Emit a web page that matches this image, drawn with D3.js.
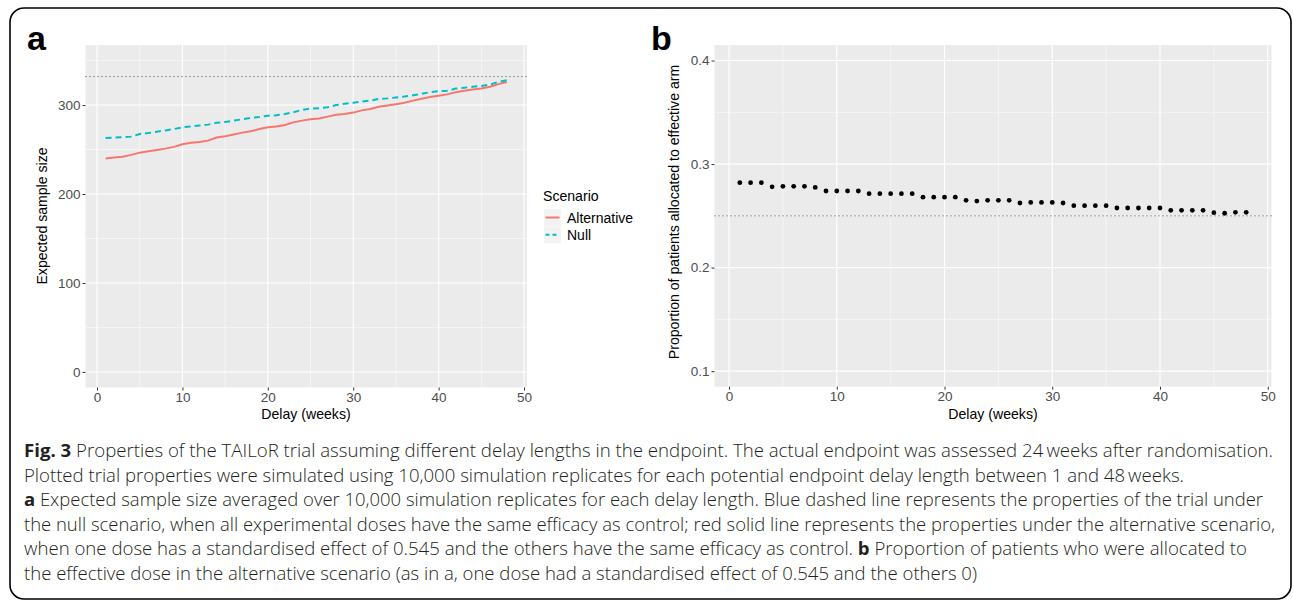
<!DOCTYPE html>
<html>
<head>
<meta charset="utf-8">
<script src="https://d3js.org/d3.v7.min.js"></script>
<style>
  body { margin: 0; background: #fff; }
  svg { display: block; }
  .tick text { font-family: "Liberation Sans", Arial, sans-serif; font-size: 13.5px; fill: #4d4d4d; }
  .tick line { stroke: #333; }
  .domain { display: none; }
  .ttl { font-family: "Liberation Sans", Arial, sans-serif; font-size: 14.1px; fill: #000; }
  .cap { font-family: "Open Sans", "Noto Sans", sans-serif; font-size: 17.5px; font-weight: 300; fill: #231f20; }
</style>
</head>
<body>
<script>
const weeks = d3.range(1, 49);
const altSize = [240, 241, 242, 244, 246.5, 248, 249.5, 251, 253, 256, 257.5, 258.5,
  260, 263.5, 265, 267, 269, 270.5, 273, 275, 276, 277.5, 280.5, 282.5,
  284, 285, 287, 289, 290, 291.5, 294, 295.5, 298, 299.5, 301, 302.5,
  305, 307, 309, 310.5, 312, 314.5, 316, 317.5, 318.5, 320.5, 323.5, 326];
const nullSize = [263, 263.5, 264, 264.5, 267.5, 268.5, 270, 271.5, 273, 275, 276, 277,
  278, 280, 281, 282.5, 284, 285.5, 286.5, 288, 288.5, 290, 292, 294.5,
  296, 296.5, 297.5, 300, 301.5, 302.5, 304, 305, 307, 307.5, 308.5, 309.5,
  311, 312.5, 314.5, 315.5, 316, 318.5, 319.5, 320.5, 321.5, 323, 326, 328];
const propEffective = [0.282, 0.282, 0.282, 0.278, 0.2785, 0.2785, 0.2785, 0.2775, 0.274, 0.274, 0.274, 0.274,
  0.2714, 0.2714, 0.2714, 0.2714, 0.2714, 0.268, 0.268, 0.268, 0.268, 0.265, 0.2643, 0.265,
  0.265, 0.265, 0.2624, 0.263, 0.263, 0.263, 0.2624, 0.2598, 0.2598, 0.2598, 0.2598, 0.2576,
  0.2576, 0.2576, 0.2576, 0.2576, 0.2553, 0.2553, 0.2553, 0.2553, 0.2531, 0.2525, 0.2534, 0.2534];
const maxSize = 332;
const equalAlloc = 0.25;
const xTicks = [0, 10, 20, 30, 40, 50];
const sizeTicks = [0, 100, 200, 300];
const propTicks = [0.1, 0.2, 0.3, 0.4];
const scenarios = ["Alternative", "Null"];
const scenarioColors = ["#F8766D", "#00BFC4"];
const captionLines = [
  [["Fig. 3", true], [" Properties of the TAILoR trial assuming different delay lengths in the endpoint. The actual endpoint was assessed 24\u2009weeks after randomisation.", false]],
  [["Plotted trial properties were simulated using 10,000 simulation replicates for each potential endpoint delay length between 1 and 48\u2009weeks.", false]],
  [["a", true], [" Expected sample size averaged over 10,000 simulation replicates for each delay length. Blue dashed line represents the properties of the trial under", false]],
  [["the null scenario, when all experimental doses have the same efficacy as control; red solid line represents the properties under the alternative scenario,", false]],
  [["when one dose has a standardised effect of 0.545 and the others have the same efficacy as control. ", false], ["b", true], [" Proportion of patients who were allocated to", false]],
  [["the effective dose in the alternative scenario (as in a, one dose had a standardised effect of 0.545 and the others 0)", false]]
];
const captionWidths = [1249, 1160, 1239, 1251, 1223, 953];

const svg = d3.select("body").append("svg").attr("width", 1293).attr("height", 603);

svg.append("rect").attr("x", 10).attr("y", 8).attr("width", 1281).attr("height", 591)
  .attr("rx", 14).attr("fill", "none").attr("stroke", "#000").attr("stroke-width", 1.6);

function panel(left, right, top, bottom, yScale, yTicks, yFmt) {
  const x = d3.scaleLinear().domain([-1.35, 50.35]).range([left, right]);
  const g = svg.append("g");
  g.append("rect").attr("x", left).attr("y", top).attr("width", right - left).attr("height", bottom - top).attr("fill", "#ebebeb");
  const minorX = [5, 15, 25, 35, 45];
  const ys = yScale.ticks(8).filter(v => !yTicks.some(t => Math.abs(t - v) < 1e-9));
  g.selectAll(".mx").data(minorX).join("line").attr("x1", x).attr("x2", x).attr("y1", top).attr("y2", bottom)
    .attr("stroke", "#fff").attr("stroke-width", 0.5);
  g.selectAll(".my").data(ys).join("line").attr("y1", yScale).attr("y2", yScale).attr("x1", left).attr("x2", right)
    .attr("stroke", "#fff").attr("stroke-width", 0.5);
  g.selectAll(".Mx").data(xTicks).join("line").attr("x1", x).attr("x2", x).attr("y1", top).attr("y2", bottom)
    .attr("stroke", "#fff").attr("stroke-width", 1.1);
  g.selectAll(".My").data(yTicks).join("line").attr("y1", yScale).attr("y2", yScale).attr("x1", left).attr("x2", right)
    .attr("stroke", "#fff").attr("stroke-width", 1.1);
  svg.append("g").attr("transform", `translate(0,${bottom})`)
    .call(d3.axisBottom(x).tickValues(xTicks).tickSize(3).tickPadding(2));
  svg.append("g").attr("transform", `translate(${left},0)`)
    .call(d3.axisLeft(yScale).tickValues(yTicks).tickFormat(yFmt).tickSize(3).tickPadding(2));
  return x;
}

// panel a
const yA = d3.scaleLinear().domain([-17.5, 367.5]).range([387.5, 45]);
const xA = panel(85.5, 527, 45, 387.5, yA, sizeTicks, d3.format("d"));
svg.append("line").attr("x1", 85.5).attr("x2", 527).attr("y1", yA(maxSize)).attr("y2", yA(maxSize))
  .attr("stroke", "#333").attr("stroke-width", 0.9).attr("stroke-dasharray", "1,3");
const lineA = d3.line().x((d, i) => xA(weeks[i])).y(d => yA(d));
svg.append("path").datum(altSize).attr("d", lineA).attr("fill", "none")
  .attr("stroke", scenarioColors[0]).attr("stroke-width", 2);
svg.append("path").datum(nullSize).attr("d", lineA).attr("fill", "none")
  .attr("stroke", scenarioColors[1]).attr("stroke-width", 2).attr("stroke-dasharray", "6,4");

svg.append("text").attr("class", "ttl").attr("x", 306).attr("y", 419).attr("text-anchor", "middle").text("Delay (weeks)");
svg.append("text").attr("class", "ttl").attr("transform", "translate(47,216) rotate(-90)").attr("text-anchor", "middle").text("Expected sample size");
svg.append("text").attr("x", 27).attr("y", 50).attr("font-family", "Liberation Sans, Arial, sans-serif")
  .attr("font-weight", "bold").attr("font-size", 34).text("a");

// legend
const leg = svg.append("g").attr("transform", "translate(543,0)");
leg.append("text").attr("class", "ttl").attr("x", 0).attr("y", 201).attr("font-size", 14).text("Scenario");
scenarios.forEach((s, i) => {
  const y0 = 209 + i * 17.3;
  leg.append("rect").attr("x", 1).attr("y", y0).attr("width", 17).attr("height", 17).attr("fill", "#f2f2f2");
  leg.append("line").attr("x1", 2.5).attr("x2", 16.5).attr("y1", y0 + 8.5).attr("y2", y0 + 8.5)
    .attr("stroke", scenarioColors[i]).attr("stroke-width", 2).attr("stroke-dasharray", i ? "4,3" : null);
  leg.append("text").attr("x", 24).attr("y", y0 + 13.5).attr("font-family", "Liberation Sans, Arial, sans-serif")
    .attr("font-size", 14).attr("fill", "#000").text(s);
});

// panel b
const yB = d3.scaleLinear().domain([0.085, 0.415]).range([386.7, 45]);
const xB = panel(714.5, 1271.5, 45, 386.7, yB, propTicks, d3.format(".1f"));
svg.append("line").attr("x1", 714.5).attr("x2", 1271.5).attr("y1", yB(equalAlloc)).attr("y2", yB(equalAlloc))
  .attr("stroke", "#333").attr("stroke-width", 0.9).attr("stroke-dasharray", "1,3");
svg.append("g").selectAll("circle").data(propEffective).join("circle")
  .attr("cx", (d, i) => xB(weeks[i])).attr("cy", d => yB(d)).attr("r", 2.4).attr("fill", "#000");
svg.append("text").attr("class", "ttl").attr("x", 993).attr("y", 419).attr("text-anchor", "middle").text("Delay (weeks)");
svg.append("text").attr("class", "ttl").attr("transform", "translate(679,212) rotate(-90)").attr("text-anchor", "middle").text("Proportion of patients allocated to effective arm");
svg.append("text").attr("x", 651).attr("y", 50).attr("font-family", "Liberation Sans, Arial, sans-serif")
  .attr("font-weight", "bold").attr("font-size", 34).text("b");

// caption
captionLines.forEach((parts, i) => {
  const t = svg.append("text").attr("class", "cap").attr("x", 24).attr("y", 457 + i * 24.5)
    .attr("textLength", captionWidths[i]).attr("lengthAdjust", "spacingAndGlyphs");
  parts.forEach(([s, b]) => t.append("tspan").attr("font-weight", b ? "bold" : null).text(s));
});
</script>
</body>
</html>
